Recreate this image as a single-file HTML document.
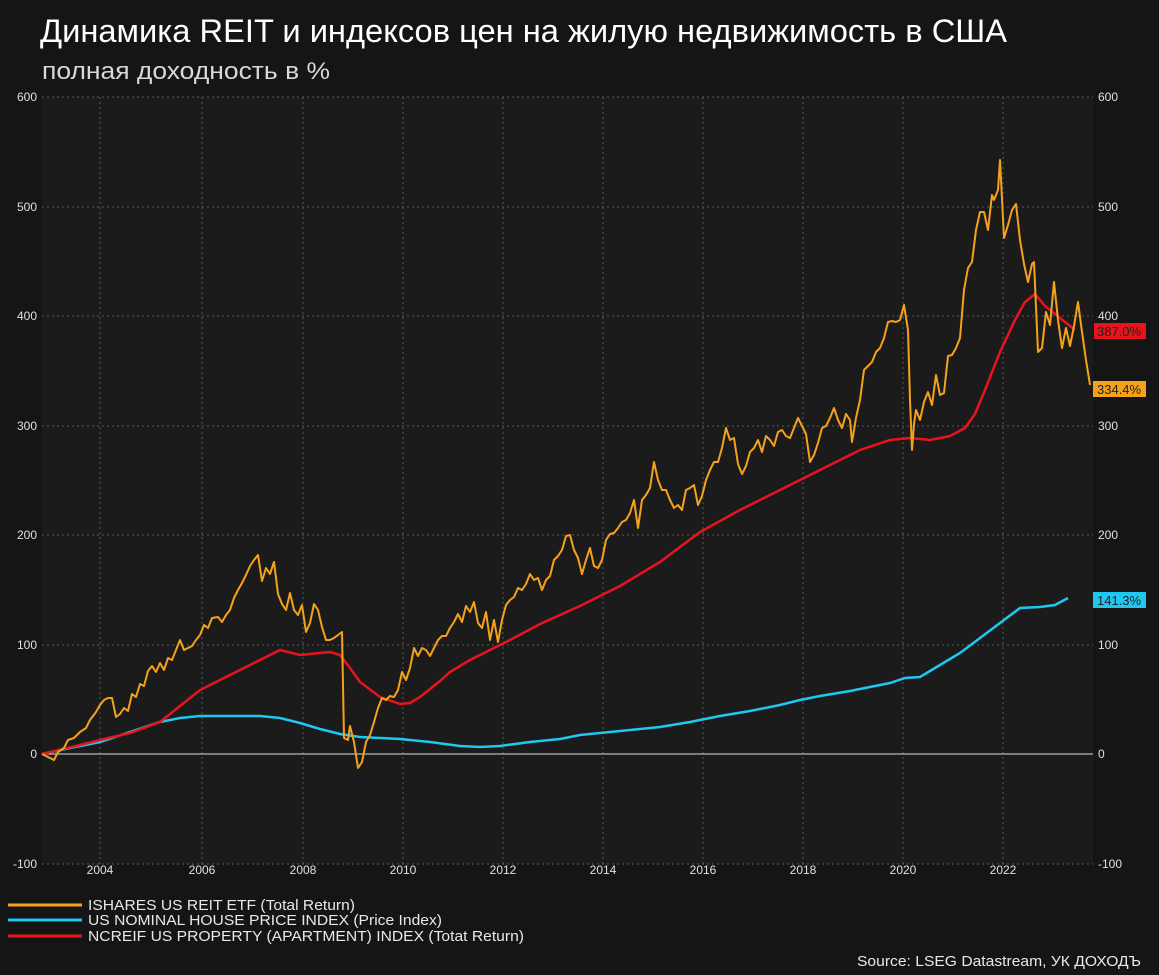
<!DOCTYPE html>
<html><head><meta charset="utf-8"><style>
body{margin:0;background:#151515;}
svg{display:block;font-family:"Liberation Sans",sans-serif;}
</style></head><body>
<svg width="1159" height="975" viewBox="0 0 1159 975">
<rect width="1159" height="975" fill="#151515"/>
<rect x="42" y="97" width="1051" height="767" fill="#1b1b1b"/>
<text x="40" y="42" fill="#fff" font-size="32" textLength="967" lengthAdjust="spacingAndGlyphs">Динамика REIT и индексов цен на жилую недвижимость в США</text>
<text x="42" y="79" fill="#d8d8d8" font-size="24" textLength="288" lengthAdjust="spacingAndGlyphs">полная доходность в %</text>
<g stroke="#5a5a5a" stroke-dasharray="2,3" stroke-width="1">
<line x1="42" x2="1093" y1="97" y2="97"/><line x1="42" x2="1093" y1="207" y2="207"/>
<line x1="42" x2="1093" y1="316" y2="316"/><line x1="42" x2="1093" y1="426" y2="426"/>
<line x1="42" x2="1093" y1="535" y2="535"/><line x1="42" x2="1093" y1="645" y2="645"/>
<line x1="42" x2="1093" y1="864" y2="864"/>
<line x1="100" x2="100" y1="97" y2="864"/><line x1="202" x2="202" y1="97" y2="864"/>
<line x1="303" x2="303" y1="97" y2="864"/><line x1="403" x2="403" y1="97" y2="864"/>
<line x1="503" x2="503" y1="97" y2="864"/><line x1="603" x2="603" y1="97" y2="864"/>
<line x1="703" x2="703" y1="97" y2="864"/><line x1="803" x2="803" y1="97" y2="864"/>
<line x1="903" x2="903" y1="97" y2="864"/><line x1="1003" x2="1003" y1="97" y2="864"/>
</g>
<line x1="42" x2="1093" y1="754" y2="754" stroke="#ddd" stroke-width="1"/>
<g fill="#e0e0e0" font-size="12">
<g text-anchor="end"><text x="37" y="101">600</text><text x="37" y="211">500</text><text x="37" y="320">400</text><text x="37" y="430">300</text><text x="37" y="539">200</text><text x="37" y="649">100</text><text x="37" y="758">0</text><text x="37" y="868">-100</text></g>
<g><text x="1098" y="101">600</text><text x="1098" y="211">500</text><text x="1098" y="320">400</text><text x="1098" y="430">300</text><text x="1098" y="539">200</text><text x="1098" y="649">100</text><text x="1098" y="758">0</text><text x="1098" y="868">-100</text></g>
<g text-anchor="middle"><text x="100" y="874">2004</text><text x="202" y="874">2006</text><text x="303" y="874">2008</text><text x="403" y="874">2010</text><text x="503" y="874">2012</text><text x="603" y="874">2014</text><text x="703" y="874">2016</text><text x="803" y="874">2018</text><text x="903" y="874">2020</text><text x="1003" y="874">2022</text></g>
</g>
<polyline fill="none" stroke="#1ec8f0" stroke-width="2.5" points="42,754 70,748 100,742 130,732 160,722 180,718 200,716 220,716 240,716 260,716 280,718 300,723 320,729 340,734 360,737 380,738 400,739 430,742 460,746 480,747 500,746 530,742 560,739 580,735 600,733 630,730 660,727 690,722 720,716 750,711 780,705 800,700 820,696 850,691 870,687 890,683 905,678 920,677 940,665 960,653 980,638 1000,623 1020,608 1040,607 1055,605 1068,598"/>
<polyline fill="none" stroke="#e8141c" stroke-width="2.5" points="42,754 80,745 100,740 130,733 160,722 180,706 200,690 220,680 240,670 260,660 280,650 300,655 320,653 330,652 340,655 350,668 360,682 380,697 400,704 410,703 420,697 440,681 450,672 470,660 490,650 510,640 540,624 580,606 620,586 660,562 700,532 740,510 780,490 820,470 860,450 890,440 910,438 930,440 950,436 965,428 975,414 985,390 1000,352 1015,320 1025,302 1035,294 1045,306 1060,318 1075,330"/>
<polyline fill="none" stroke="#f5a21b" stroke-width="2" stroke-linejoin="round" points="42,754 48,757 54,760 58,752 64,748 68,740 74,738 80,732 86,728 90,720 96,712 100,705 104,700 108,698 112,698 116,717 120,714 124,708 128,711 132,694 136,697 140,684 144,686 148,671 152,666 156,672 160,663 164,670 168,658 172,660 176,650 180,640 184,650 188,648 192,646 196,640 200,635 204,625 208,628 212,618 218,617 222,622 226,615 230,610 234,598 238,590 242,583 246,575 250,566 254,560 258,555 262,581 266,568 270,574 274,562 278,594 282,604 286,610 290,593 294,610 298,615 302,605 306,632 310,623 314,604 318,610 322,627 326,640 330,640 334,638 338,635 342,632 344,738 348,740 350,726 354,742 358,768 362,762 366,742 370,735 374,722 378,708 382,698 386,700 390,696 394,697 398,690 402,672 406,680 410,668 414,648 418,656 422,648 426,650 430,656 434,648 438,640 442,636 446,636 450,628 454,622 458,614 462,622 466,606 470,612 474,602 478,623 482,628 486,612 490,640 494,620 498,642 502,620 506,605 510,600 514,597 518,588 522,590 526,584 530,574 534,580 538,578 542,590 546,580 550,576 554,560 558,556 562,550 566,536 570,535 574,550 578,558 582,574 586,560 590,548 594,566 598,568 602,560 606,540 610,534 614,533 618,528 622,522 626,520 630,513 634,500 638,528 642,500 646,495 650,488 654,462 658,480 662,490 666,490 670,500 674,508 678,505 682,510 686,490 690,488 694,485 698,505 702,496 706,480 710,470 714,462 718,462 722,448 726,428 730,440 734,438 738,464 742,474 746,466 750,452 754,448 758,440 762,452 766,436 770,440 774,446 778,432 782,430 786,436 790,438 794,428 798,418 802,426 806,434 810,462 814,455 818,443 822,428 826,426 830,418 834,408 838,420 842,428 846,414 850,420 852,442 856,418 860,400 864,370 868,366 872,362 876,352 880,348 884,338 888,322 892,321 896,322 900,320 904,305 908,330 910,400 912,450 914,424 916,410 920,420 924,402 928,392 932,405 936,375 940,395 944,393 948,356 952,355 956,348 960,338 964,290 968,268 972,262 976,230 980,212 984,212 988,230 992,195 994,200 998,190 1000,160 1004,238 1008,225 1012,210 1016,204 1020,240 1024,264 1028,282 1032,264 1034,262 1038,352 1042,348 1046,312 1050,325 1054,282 1058,320 1062,348 1066,328 1070,346 1074,326 1078,302 1082,332 1086,360 1090,385"/>
<rect x="1094" y="323" width="52" height="16" fill="#e8141c"/><text x="1097" y="336" font-size="13" fill="#222">387.0%</text>
<rect x="1093" y="381" width="53" height="16" fill="#f5a21b"/><text x="1097" y="394" font-size="13" fill="#222">334.4%</text>
<rect x="1093" y="592" width="53" height="16" fill="#1ec8f0"/><text x="1097" y="605" font-size="13" fill="#222">141.3%</text>
<g font-size="15" fill="#e8e8e8">
<line x1="8" x2="82" y1="905" y2="905" stroke="#f5a21b" stroke-width="3"/><text x="88" y="910" textLength="267" lengthAdjust="spacingAndGlyphs">ISHARES US REIT ETF (Total Return)</text>
<line x1="8" x2="82" y1="920" y2="920" stroke="#1ec8f0" stroke-width="3"/><text x="88" y="925" textLength="354" lengthAdjust="spacingAndGlyphs">US NOMINAL HOUSE PRICE INDEX (Price Index)</text>
<line x1="8" x2="82" y1="936" y2="936" stroke="#e8141c" stroke-width="3"/><text x="88" y="941" textLength="436" lengthAdjust="spacingAndGlyphs">NCREIF US PROPERTY (APARTMENT) INDEX (Totat Return)</text>
<text x="857" y="966" font-size="15" textLength="284" lengthAdjust="spacingAndGlyphs">Source: LSEG Datastream, УК ДОХОДЪ</text>
</g>
</svg>
</body></html>
